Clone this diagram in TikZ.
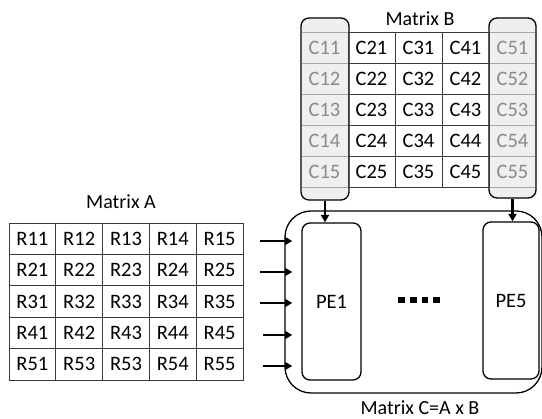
\documentclass[tikz,border=0pt]{standalone}
\usepackage{fontspec}
\setmainfont{Carlito}
\usetikzlibrary{arrows.meta}
\definecolor{boxgrey}{HTML}{EFEFEF}
\definecolor{linegrey}{HTML}{A8A8A8}
\definecolor{textgrey}{HTML}{8A8A8A}
\definecolor{gridline}{HTML}{3A3A3A}
\tikzset{
  txt/.style={font=\fontsize{20.5}{22}\selectfont},
  cellA/.style={txt, draw=gridline, line width=0.8pt, minimum width=46.8pt, minimum height=31.4pt, inner sep=0pt},
  cellB/.style={txt, draw=gridline, line width=0.8pt, minimum width=47pt, minimum height=31pt, inner sep=0pt},
  cellG/.style={txt, text=textgrey, minimum width=47pt, minimum height=31pt, inner sep=0pt},
  greybox/.style={draw=black, line width=1.3pt, fill=boxgrey, rounded corners=8pt, inner sep=0pt},
  pebox/.style={draw=black, line width=1.3pt, rounded corners=8pt, inner sep=0pt, txt},
  outerbox/.style={draw=black, line width=1.3pt, rounded corners=26pt, inner sep=0pt},
  arr/.style={line width=2.2pt, -{Triangle[length=7.5pt,width=8pt]}},
  dot/.style={fill=black, minimum size=6.5pt, inner sep=0pt},
  lbl/.style={font=\fontsize{20}{22}\selectfont}
}
\begin{document}
\begin{tikzpicture}[x=1pt,y=-1pt]
\useasboundingbox (0,0) rectangle (542,419);

% Matrix A
\node[lbl] (labA) at (121,202) {Matrix A};
\foreach \r/\row in {1/{R11,R12,R13,R14,R15},2/{R21,R22,R23,R24,R25},3/{R31,R32,R33,R34,R35},4/{R41,R42,R43,R44,R45},5/{R51,R53,R53,R54,R55}} {
  \foreach \t [count=\c] in \row {
    \node[cellA] (a\r\c) at ({9+46.8*(\c-0.5)},{223+31.4*(\r-0.5)}) {\t};
  }
}

% Matrix B
\node[lbl] (labB) at (420,19) {Matrix B};
\node[greybox, minimum width=48pt, minimum height=182pt] (gb1) at (325,109) {};
\node[greybox, minimum width=47pt, minimum height=180pt] (gb5) at (512.5,108) {};
\foreach \k in {0,...,5} {
  \draw[linegrey, line width=0.8pt] (301.7,{32+31*\k}) -- (348.3,{32+31*\k});
  \draw[linegrey, line width=0.8pt] (489.7,{32+31*\k}) -- (535.3,{32+31*\k});
}
\foreach \r in {1,...,5} {
  \node[cellG] (b1\r) at (324.5,{32+31*(\r-0.5)}) {C1\r};
  \node[cellG] (b5\r) at (512.5,{32+31*(\r-0.5)}) {C5\r};
  \foreach \c in {2,3,4} {
    \node[cellB] (b\c\r) at ({301+47*(\c-0.5)},{32+31*(\r-0.5)}) {C\c\r};
  }
}

% Matrix C
\node[outerbox, minimum width=257pt, minimum height=182pt] (outer) at (413.5,302) {};
\node[pebox, minimum width=59pt, minimum height=157pt] (pe1) at (331.5,301.5) {PE1};
\node[pebox, minimum width=56pt, minimum height=157pt] (pe5) at (511,300.5) {PE5};
\node[dot] (d1) at (401.7,300) {};
\node[dot] (d2) at (413.3,300) {};
\node[dot] (d3) at (425,300) {};
\node[dot] (d4) at (436.7,300) {};
\node[lbl] (labC) at (420,408) {Matrix C=A x B};

% vertical arrows
\draw[arr] (gb1.south) -- (gb1.south |- pe1.north);
\draw[arr] (gb5.south) -- (gb5.south |- pe5.north);

% horizontal arrows
\coordinate (in1) at (260,241);
\coordinate (in2) at (260,272);
\coordinate (in3) at (260,303);
\coordinate (in4) at (263,335);
\coordinate (in5) at (263,366);
\foreach \i in {1,...,5} {
  \draw[arr] (in\i) -- ([xshift=8pt]in\i -| outer.west);
}
\end{tikzpicture}
\end{document}
